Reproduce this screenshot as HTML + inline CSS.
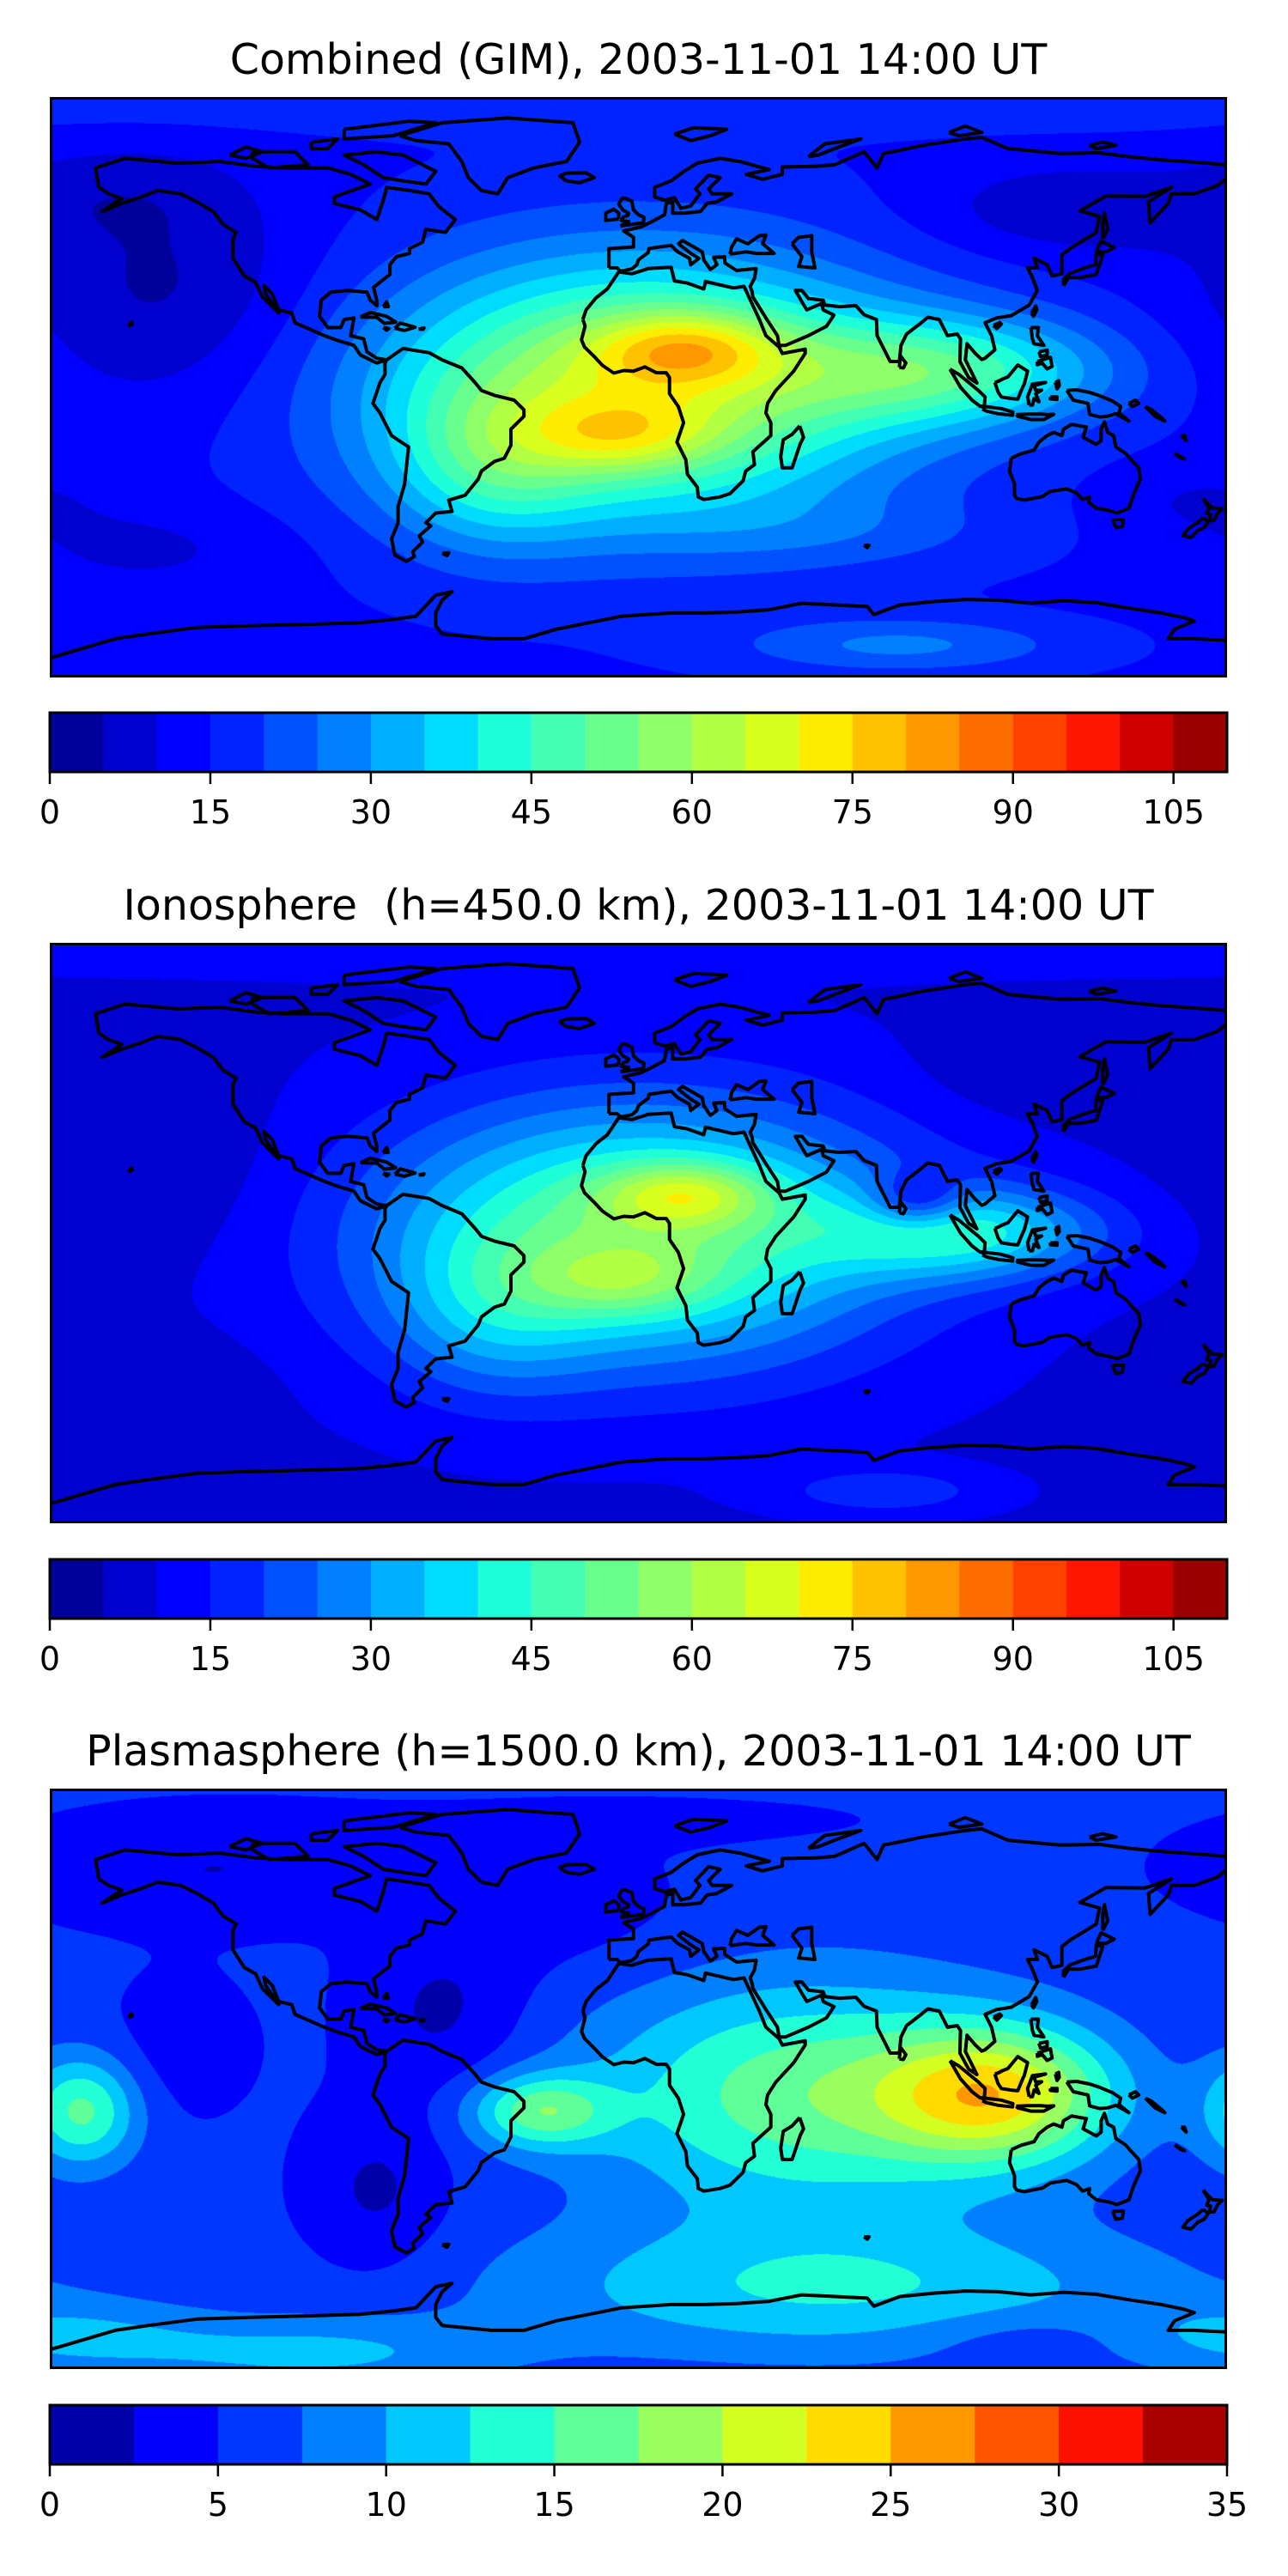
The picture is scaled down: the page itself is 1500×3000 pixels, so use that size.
<!DOCTYPE html>
<html><head><meta charset="utf-8">
<style>
html,body{margin:0;padding:0;background:#fff;}
body{width:1500px;height:3000px;position:relative;overflow:hidden;font-family:"DejaVu Sans","Liberation Sans",sans-serif;}
.title{position:absolute;left:0;width:1487px;text-align:center;font-size:49px;line-height:56px;color:#000;white-space:nowrap;}
.map{position:absolute;left:58px;width:1371px;height:676px;}
.map canvas,.map svg{position:absolute;left:0;top:0;}
.cbar{position:absolute;left:0;top:0;}
</style></head>
<body>
<div class="title" style="top:42px">Combined (GIM), 2003-11-01 14:00 UT</div>
<div class="title" style="top:1027px">Ionosphere&nbsp; (h=450.0 km), 2003-11-01 14:00 UT</div>
<div class="title" style="top:2012px">Plasmasphere (h=1500.0 km), 2003-11-01 14:00 UT</div>
<div class="map" id="m1" style="top:113px"></div>
<div class="map" id="m2" style="top:1098px"></div>
<div class="map" id="m3" style="top:2083px"></div>
<svg class="cbar" id="cb" width="1500" height="3000"></svg>
<script>
// ---- data: field blobs (lon, lat, amplitude, sigma lon, sigma lat) ----
const gimBase = 14;
const gimLon = [0, 15, -5, 95, -45, -145, 130, 80, -150, 0, 60, -160, 170];
const gimLat = [0, 12, -15, 5, -25, 30, 55, -80, -50, 85, -45, 60, -35];
const gimAmp = [50, 22, 16, 28, 16, -10, -8, 12, -5, 4, 5, -4, -4];
const gimSx = [55, 20, 20, 35, 22, 32, 30, 35, 30, 200, 40, 25, 20];
const gimSy = [28, 8, 8, 12, 18, 25, 10, 6, 10, 5, 8, 10, 8];

const ionoBase = 9;
const ionoLon = [0, 15, -5, 100, 85, -150, -45, 75, 130, 0, -160];
const ionoLat = [0, 12, -15, 0, 10, 20, -25, -80, 50, 85, -45];
const ionoAmp = [44, 22, 13, 28, -18, -4, 12, 10, -4, 3, -3];
const ionoSx = [55, 18, 20, 30, 10, 30, 22, 22, 30, 200, 30];
const ionoSy = [28, 7, 8, 10, 6, 20, 18, 5, 10, 5, 10];

const plasBase = 5.5;
const plasLon = [110, 50, -30, -170, 60, -100, -60, -80, -130, -140, 120, 0, -175, -20];
const plasLat = [-5, -5, -10, -10, -65, -85, 20, -35, 65, 10, -80, 80, -80, 50];
const plasAmp = [15, 11, 10, 10, 7, 5, -3.5, -3.5, -3, -2, -2, -1, 4, -1.5];
const plasSx = [25, 45, 15, 12, 70, 40, 18, 15, 40, 15, 25, 60, 30, 30];
const plasSy = [15, 25, 8, 12, 15, 8, 18, 18, 12, 15, 6, 6, 8, 15];

const gimLevels = {max:110, step:5};
const plasLevels = {max:35, step:2.5};
const gimTicks = [0,15,30,45,60,75,90,105];
const plasTicks = [0,5,10,15,20,25,30,35];

// ---- coastlines (lon,lat) ----
const coasts = [
[[-165,62],[-166,68],[-157,71],[-141,69.5],[-128,70],[-117,68.5],[-108,68],[-95,68],[-88,66],[-82,63],[-93,59],[-93,57],[-85,55],[-80,52],[-78,58],[-77,62],[-70,61],[-64,60],[-61,56],[-56,52],[-59,48],[-65,49],[-66,45],[-70,43],[-70,41.5],[-74,40.5],[-76,38],[-76,35],[-81,31],[-80,27],[-80,25.3],[-82,27],[-83,29.5],[-89,30],[-94,29.5],[-97,27],[-97.5,22],[-95,18.5],[-91,18.5],[-90,21],[-87,21.5],[-88,16],[-84,15],[-83,11],[-80,9],[-77,8.5],[-80,7.5],[-85,10],[-87,13],[-92,14.5],[-96,16],[-105,20],[-106,23],[-110,24],[-112,29],[-114.5,31.5],[-114,29],[-110,23],[-112,25],[-115,28],[-117,32.5],[-120.5,34.5],[-124,40],[-124,46],[-123,48],[-127,50.5],[-130,54.5],[-135,57.5],[-140,60],[-147,61],[-152,59],[-158,57],[-164,54.5],[-158,58.5],[-162,60],[-165,62]],
[[-73,78],[-60,82],[-40,83.5],[-20,82],[-18,76],[-22,70],[-32,68],[-40,65],[-43,60],[-48,61],[-52,65],[-54,70],[-58,75.5],[-68,76.5],[-73,78]],
[[-80,73],[-72,72],[-62,67],[-65,63],[-72,64],[-78,65],[-84,69],[-90,72],[-80,73]],
[[-118,73],[-105,73],[-101,69],[-113,68],[-118,71],[-118,73]],
[[-90,80],[-70,82.5],[-62,82],[-75,78],[-90,77],[-90,80]],
[[-125,72],[-120,74.5],[-115,73],[-120,71],[-125,72]],
[[-100,76],[-92,77],[-95,74],[-100,74],[-100,76]],
[[-77,8.5],[-72,12],[-64,10.7],[-60,8.5],[-54,6],[-50,1.5],[-48,-1],[-44,-2.5],[-38,-4],[-35,-7],[-35,-9],[-39,-13],[-39,-18],[-41,-22],[-44,-23],[-48,-26],[-49,-28.5],[-53,-33.5],[-58,-35],[-57,-38.5],[-62,-39],[-65,-42],[-63.5,-43],[-67,-46],[-66,-48],[-69,-51],[-68.5,-52.5],[-71,-54],[-74.5,-52],[-75.5,-47],[-73.5,-42],[-73.5,-37],[-71.5,-30],[-70.3,-18.5],[-75.5,-15],[-79,-8],[-81.2,-5],[-80,-1.5],[-79,1.5],[-77.5,4],[-77.5,7.5],[-77,8.5]],
[[-17,21],[-16,24],[-13,27.7],[-9.5,30.5],[-6,35.8],[-2,35.2],[3,36.8],[10,37.2],[11,33],[15,32.3],[20,30.5],[20.5,32.8],[29,30.8],[32.3,31.3],[34,27.5],[37,21],[39,16],[43,12.5],[44,10.5],[51,11.8],[51,10.5],[47.5,5],[42,-1],[39.5,-5],[39,-8],[40.5,-11],[40.5,-15],[35,-20],[35.5,-24],[32.8,-26],[32,-29],[28,-33],[25,-34],[20,-34.8],[18.3,-34],[18,-31],[15,-27],[14.5,-22.5],[11.8,-17],[13.8,-11],[12.2,-6],[9.5,-2],[9.5,3],[8.5,4.5],[5.5,4.5],[2,6.3],[-1.5,5],[-4.5,5.2],[-7.5,4.4],[-11,6.8],[-13.5,9.5],[-16.5,12.5],[-17.4,14.7],[-16.3,19],[-17,21]],
[[49.3,-12],[50.5,-15.5],[49.5,-17.5],[47,-25],[44,-25],[43.5,-21.5],[44.3,-16.3],[47,-14.6],[49.3,-12]],
[[-9,37],[-9,43],[-1.5,43.5],[-1.5,46.5],[-4.5,48.5],[1,49.8],[4,51.3],[8,53.5],[8.5,57],[10.5,57.5],[10.5,54],[14,54],[19,54.5],[21,57],[24,57.5],[28.5,60],[22.5,60],[21.5,61.5],[25,65],[21.5,65.8],[17.5,61.5],[18.8,60],[16,56.2],[13,55.5],[11,58.8],[8,58],[5,59],[5,62],[10,64],[14,67],[18,69.5],[25,71],[31,70],[40,67.5],[33,66],[38,64.5],[44,66],[44,68.3],[54,68.5],[60,69],[69,73],[73,68],[75,72.5],[80,73.5],[87,75],[100,77],[105,77.5],[113,74],[129,72.5],[141,72.7],[150,71.5],[160,70.5],[170,69.8],[180,69],[180,65],[177,62.5],[170,60],[163,60],[162,57],[156.5,51],[156,57.5],[163,62],[155,59.2],[143,59.3],[135,54.7],[141,53],[140,48],[132,43],[129.5,41],[129.5,35.2],[126.5,34.5],[125,38],[121,40],[122,37],[119,37],[120.5,34],[122,30],[119.5,25.5],[114,22.2],[109.5,21.5],[106,20],[108,16],[109,11.6],[106,9],[105,8.6],[103,10.5],[100.5,13.5],[100,8.5],[103.5,1.3],[101,3],[98.3,8],[98.5,15],[97.5,16.5],[94.5,16],[92,21],[88.5,21.7],[86.5,20],[82,16.5],[80.3,13],[79.8,8],[77,8],[73,16],[72.8,21],[69,22.5],[66.5,25.3],[61.5,25],[57,25.5],[56.5,27],[52,27.5],[50,30],[48,30],[50,26.5],[51.5,24],[56,26],[56.5,24],[59.8,22.4],[57.5,18.9],[52,16],[45,13],[43,13],[42.5,16],[39,21.5],[35,28],[34.8,29.5],[34.2,31.3],[35.5,33.8],[36,36.8],[30,36.2],[26.5,38.5],[26.3,40.5],[23,40.3],[24,38],[22,36.5],[20,39.5],[19.5,42],[13.5,45.5],[12.3,44.5],[16,41.5],[18.5,40],[16,38],[15.6,40],[12,42],[10,44],[7,43.6],[3.2,43],[3,41.8],[0,39.5],[-0.5,38],[-2,36.7],[-5.5,36],[-6.5,37],[-9,37]],
[[28,41.3],[28.5,43.5],[30,46],[33.5,44.5],[37,47],[39,47.2],[38,44.5],[41.5,41.5],[36,41.5],[33,42],[28,41.3]],
[[47,44.5],[49,46.5],[53,47],[53,42],[54,37],[49,37.5],[50,40.5],[47,44.5]],
[[-5.5,50],[1.5,51],[1.7,52.7],[0,53.5],[-1.5,55],[-2,57.7],[-4,58.6],[-5,58.6],[-6,56.8],[-4.8,55],[-3,54],[-3.2,53.3],[-4.6,52.8],[-5.2,51.7],[-3,51.4],[-5.5,50]],
[[-6,52.2],[-6,54],[-7.5,55.2],[-10,54],[-10,51.7],[-6,52.2]],
[[-22,64],[-24,65.5],[-22,66.4],[-16,66.5],[-13.5,65],[-18,63.4],[-22,64]],
[[11,78.5],[17,80.5],[27,80],[22,78],[16,76.5],[11,78.5]],
[[52,71.5],[57,75.5],[68,77],[60,74],[55,72],[52,71.5]],
[[95,79],[100,81],[105,79],[98,78],[95,79]],
[[138,75],[142,76],[146,75],[140,74],[138,75]],
[[130,31.5],[131.5,34],[135,34],[140,35],[141,38],[142,41],[140,41.5],[139.8,38],[136.5,37],[132,35.3],[130,33.5],[130,31.5]],
[[140,42],[141.5,45.3],[145.5,43.3],[143,42],[140,42]],
[[142,46],[143.5,49],[142.5,54],[142,51],[142,46]],
[[120.2,23],[121.5,25.2],[121.8,24],[120.8,22],[120.2,23]],
[[108.6,19.2],[110.5,20.1],[111,19.6],[109.6,18.2],[108.6,19.2]],
[[79.8,6.2],[80.1,9.8],[81.8,7.5],[81,6],[79.8,6.2]],
[[95.3,5.6],[98,4],[104,-1],[106,-3],[105.8,-5.8],[104.5,-5.9],[102,-4],[98.5,0],[95.3,5.6]],
[[105.2,-6.8],[106,-6],[111,-6.6],[114.5,-7.7],[114.4,-8.7],[110,-8.2],[106.5,-7.4],[105.2,-6.8]],
[[115.5,-8.5],[119,-8.3],[123,-8.3],[125,-8.5],[127,-8.4],[124,-10],[120,-10],[116,-9],[115.5,-8.5]],
[[109,1.5],[110,1.8],[111.5,2.6],[113,3.2],[116,6.9],[119,5],[118,1],[117.5,0],[116,-3.7],[114,-3.5],[111,-3],[110,-1.5],[109,1.5]],
[[119.5,-5.5],[119,-3],[120.5,1],[124.5,1.5],[121,0.5],[121.5,-1],[123.3,-0.9],[121.5,-2],[122.5,-4.5],[121,-3.5],[120.5,-5.5],[119.5,-5.5]],
[[127.5,1.5],[128.5,2],[128.7,0.5],[128,-0.5],[127.5,1.5]],
[[126,-3],[128,-3],[128,-3.8],[126,-3.6],[126,-3]],
[[120,18.5],[122.3,18.5],[122,16],[124,13],[121,13.5],[120.5,15],[120,18.5]],
[[122,8],[126,9.3],[126.5,6.5],[125,5.7],[123.5,7.5],[122,7],[122,8]],
[[122.5,11],[125,11.5],[125,10],[123,9.5],[122.5,11]],
[[131,-1],[134,-0.8],[138,-1.6],[141,-2.6],[145,-4.3],[147.5,-6],[147,-8],[150,-10.5],[146,-8.2],[143.5,-9],[141,-9.2],[138,-8.4],[137.5,-5],[133,-4],[132,-2.5],[131,-1]],
[[150,-5],[152,-4],[153,-5],[151,-6],[150,-5]],
[[155,-6],[157,-7],[160,-9.5],[161,-10.5],[158,-9],[155,-6]],
[[166,-15],[167.5,-16.5],[167,-15],[166,-15]],
[[164,-20.5],[167,-22.3],[166,-22],[164,-20.5]],
[[114,-22],[113.5,-26],[115,-30],[115,-33.5],[115.7,-34.5],[118,-35],[123.5,-33.9],[126,-32.3],[131,-31.5],[134,-32.8],[135.8,-34.8],[138,-34],[137.7,-35.6],[140,-37.5],[144,-38.2],[146.3,-39],[150,-37.5],[151.5,-33],[153.5,-28.5],[153,-25],[150.7,-22.5],[149,-20.5],[146,-18.5],[145.3,-15],[143.5,-14],[142.5,-10.7],[141.5,-13],[141.5,-16.5],[140,-17.7],[136,-15.5],[137,-12.3],[135,-12],[132.5,-11.5],[130,-13],[129.5,-15],[127,-14],[125,-15],[122.5,-17],[121,-19.5],[117,-20.6],[114,-22]],
[[145,-41],[148.3,-41],[148,-43.2],[146,-43.6],[145,-41]],
[[172.7,-34.5],[174.5,-36.5],[175.5,-37.5],[178.5,-37.7],[177,-39.2],[176,-41.3],[174.6,-41.3],[175,-39.5],[173.8,-39.2],[174.5,-37.5],[172.7,-34.5]],
[[172.7,-40.5],[174.3,-41.7],[173,-43.5],[171,-44.5],[169,-46.6],[166.5,-46],[168,-44],[171,-42],[172.7,-40.5]],
[[-85,21.8],[-82,23.2],[-77,22],[-74.2,20.2],[-77.7,19.8],[-80,21.7],[-85,21.8]],
[[-74.5,18.3],[-72.8,19.9],[-68.3,18.6],[-71.5,17.6],[-74.5,18.3]],
[[-78,18.5],[-76.3,18.2],[-77,17.7],[-78,18.5]],
[[-67.2,18],[-65.6,18.4],[-65.8,18],[-67.2,18]],
[[-78,25],[-77,26.5],[-76.5,25],[-78,25]],
[[-156,19],[-155,20.2],[-154.8,19.5],[-156,19]],
[[-60,-51.5],[-58,-51.3],[-58.5,-52.2],[-60,-51.5]],
[[69,-49],[70.5,-49],[70,-49.7],[69,-49]],
[[-180,-84],[-160,-78],[-150,-76.5],[-135,-74.5],[-120,-74],[-100,-73.5],[-85,-73],[-75,-72],[-68,-71],[-62,-64.5],[-57,-63.4],[-60,-66],[-62,-70],[-62,-74],[-60,-76.5],[-45,-78],[-35,-78],[-25,-75],[-15,-73],[-5,-71],[10,-70],[20,-70],[30,-69.7],[40,-69],[50,-67],[60,-67.5],[70,-68],[72,-70.5],[80,-67.5],[90,-66.5],[100,-65.8],[110,-66],[120,-67],[130,-66.2],[140,-66.8],[150,-68.5],[160,-70],[167,-71.5],[170,-72.5],[164,-75],[162,-78],[170,-78],[180,-78.5]]
];

const W = 1371, H = 676;
function xOf(lon){ return (lon+180)/360*W; }
function yOf(lat){ return (90-lat)/180*H; }

function jet(t){
  function interp(pts){
    for(let i=0;i<pts.length-1;i++){
      if(t<=pts[i+1][0]){const a=pts[i],b=pts[i+1];return a[1]+(b[1]-a[1])*(t-a[0])/(b[0]-a[0]);}
    }
    return pts[pts.length-1][1];
  }
  const r=interp([[0,0],[0.35,0],[0.66,1],[0.89,1],[1,0.5]]);
  const g=interp([[0,0],[0.125,0],[0.375,1],[0.64,1],[0.91,0],[1,0]]);
  const b=interp([[0,0.5],[0.11,1],[0.34,1],[0.65,0],[1,0]]);
  return [Math.round(r*255),Math.round(g*255),Math.round(b*255)];
}

function field(lon,lat,base,L,La,A,Sx,Sy){
  let v=base;
  for(let i=0;i<L.length;i++){
    let d=lon-L[i]; if(d>180)d-=360; if(d<-180)d+=360;
    const e=(d/Sx[i])**2+((lat-La[i])/Sy[i])**2;
    v+=A[i]*Math.exp(-e/2);
  }
  return v;
}

function drawMap(id,base,L,La,A,Sx,Sy,lev){
  const host=document.getElementById(id);
  const cv=document.createElement('canvas');
  cv.width=W; cv.height=H;
  
  
  host.appendChild(cv);
  const ctx=cv.getContext('2d');
  const img=ctx.createImageData(W,H);
  const nb=Math.round(lev.max/lev.step);
  const cols=[];
  for(let i=0;i<nb;i++) cols.push(jet((i+0.5)/nb));
  for(let y=0;y<H;y++){
    const lat=90-(y+0.5)/H*180;
    for(let x=0;x<W;x++){
      const lon=-180+(x+0.5)/W*360;
      let v=field(lon,lat,base,L,La,A,Sx,Sy);
      let k=Math.floor(v/lev.step); if(k<0)k=0; if(k>=nb)k=nb-1;
      const c=cols[k], p=(y*W+x)*4;
      img.data[p]=c[0];img.data[p+1]=c[1];img.data[p+2]=c[2];img.data[p+3]=255;
    }
  }
  ctx.putImageData(img,0,0);
  const NS='http://www.w3.org/2000/svg';
  const svg=document.createElementNS(NS,'svg');
  svg.setAttribute('width',W); svg.setAttribute('height',H);
  
  
  let d='';
  coasts.forEach(poly=>{
    poly.forEach((pt,i)=>{ d+=(i?'L':'M')+xOf(pt[0]).toFixed(1)+' '+yOf(pt[1]).toFixed(1); });
  });
  const path=document.createElementNS(NS,'path');
  path.setAttribute('d',d); path.setAttribute('fill','none'); path.setAttribute('stroke','#000');
  path.setAttribute('stroke-width','4'); path.setAttribute('stroke-linejoin','round');
  
  
  svg.appendChild(path);
  const fr=document.createElementNS(NS,'rect');
  fr.setAttribute('x',1.5);fr.setAttribute('y',1.5);fr.setAttribute('width',W-3);fr.setAttribute('height',H-3);
  fr.setAttribute('fill','none');fr.setAttribute('stroke','#000');fr.setAttribute('stroke-width','3');
  
  
  svg.appendChild(fr);
  host.appendChild(svg);
}

function drawCbar(top,lev,ticks,name){
  const NS='http://www.w3.org/2000/svg';
  const svg=document.getElementById('cb');
  const g=document.createElementNS(NS,'g');
  
  
  svg.appendChild(g);
  const x0=58, w=1371, h=69;
  const nb=Math.round(lev.max/lev.step);
  for(let i=0;i<nb;i++){
    const c=jet((i+0.5)/nb);
    const r=document.createElementNS(NS,'rect');
    r.setAttribute('x',x0+i*w/nb); r.setAttribute('y',top);
    r.setAttribute('width',w/nb+0.6); r.setAttribute('height',h);
    r.setAttribute('fill','rgb('+c.join(',')+')');
    
    
    g.appendChild(r);
  }
  const fr=document.createElementNS(NS,'rect');
  fr.setAttribute('x',x0);fr.setAttribute('y',top);fr.setAttribute('width',w);fr.setAttribute('height',h);
  fr.setAttribute('fill','none');fr.setAttribute('stroke','#000');fr.setAttribute('stroke-width','3');
  
  
  g.appendChild(fr);
  ticks.forEach(t=>{
    const x=x0+t/lev.max*w;
    const l=document.createElementNS(NS,'line');
    l.setAttribute('x1',x);l.setAttribute('x2',x);l.setAttribute('y1',top+h);l.setAttribute('y2',top+h+14);
    l.setAttribute('stroke','#000');l.setAttribute('stroke-width','2.5');
    
    
    g.appendChild(l);
    const tx=document.createElementNS(NS,'text');
    tx.setAttribute('x',x);tx.setAttribute('y',top+h+60);
    tx.setAttribute('text-anchor','middle');tx.setAttribute('font-size','38');
    tx.setAttribute('font-family','DejaVu Sans, Liberation Sans, sans-serif');
    tx.textContent=String(t);
    
    
    g.appendChild(tx);
  });
}

drawMap('m1',gimBase,gimLon,gimLat,gimAmp,gimSx,gimSy,gimLevels);
drawMap('m2',ionoBase,ionoLon,ionoLat,ionoAmp,ionoSx,ionoSy,gimLevels);
drawMap('m3',plasBase,plasLon,plasLat,plasAmp,plasSx,plasSy,plasLevels);
drawCbar(830,gimLevels,gimTicks,'colorbar-combined');
drawCbar(1816,gimLevels,gimTicks,'colorbar-ionosphere');
drawCbar(2801,plasLevels,plasTicks,'colorbar-plasmasphere');
</script>
</body></html>
